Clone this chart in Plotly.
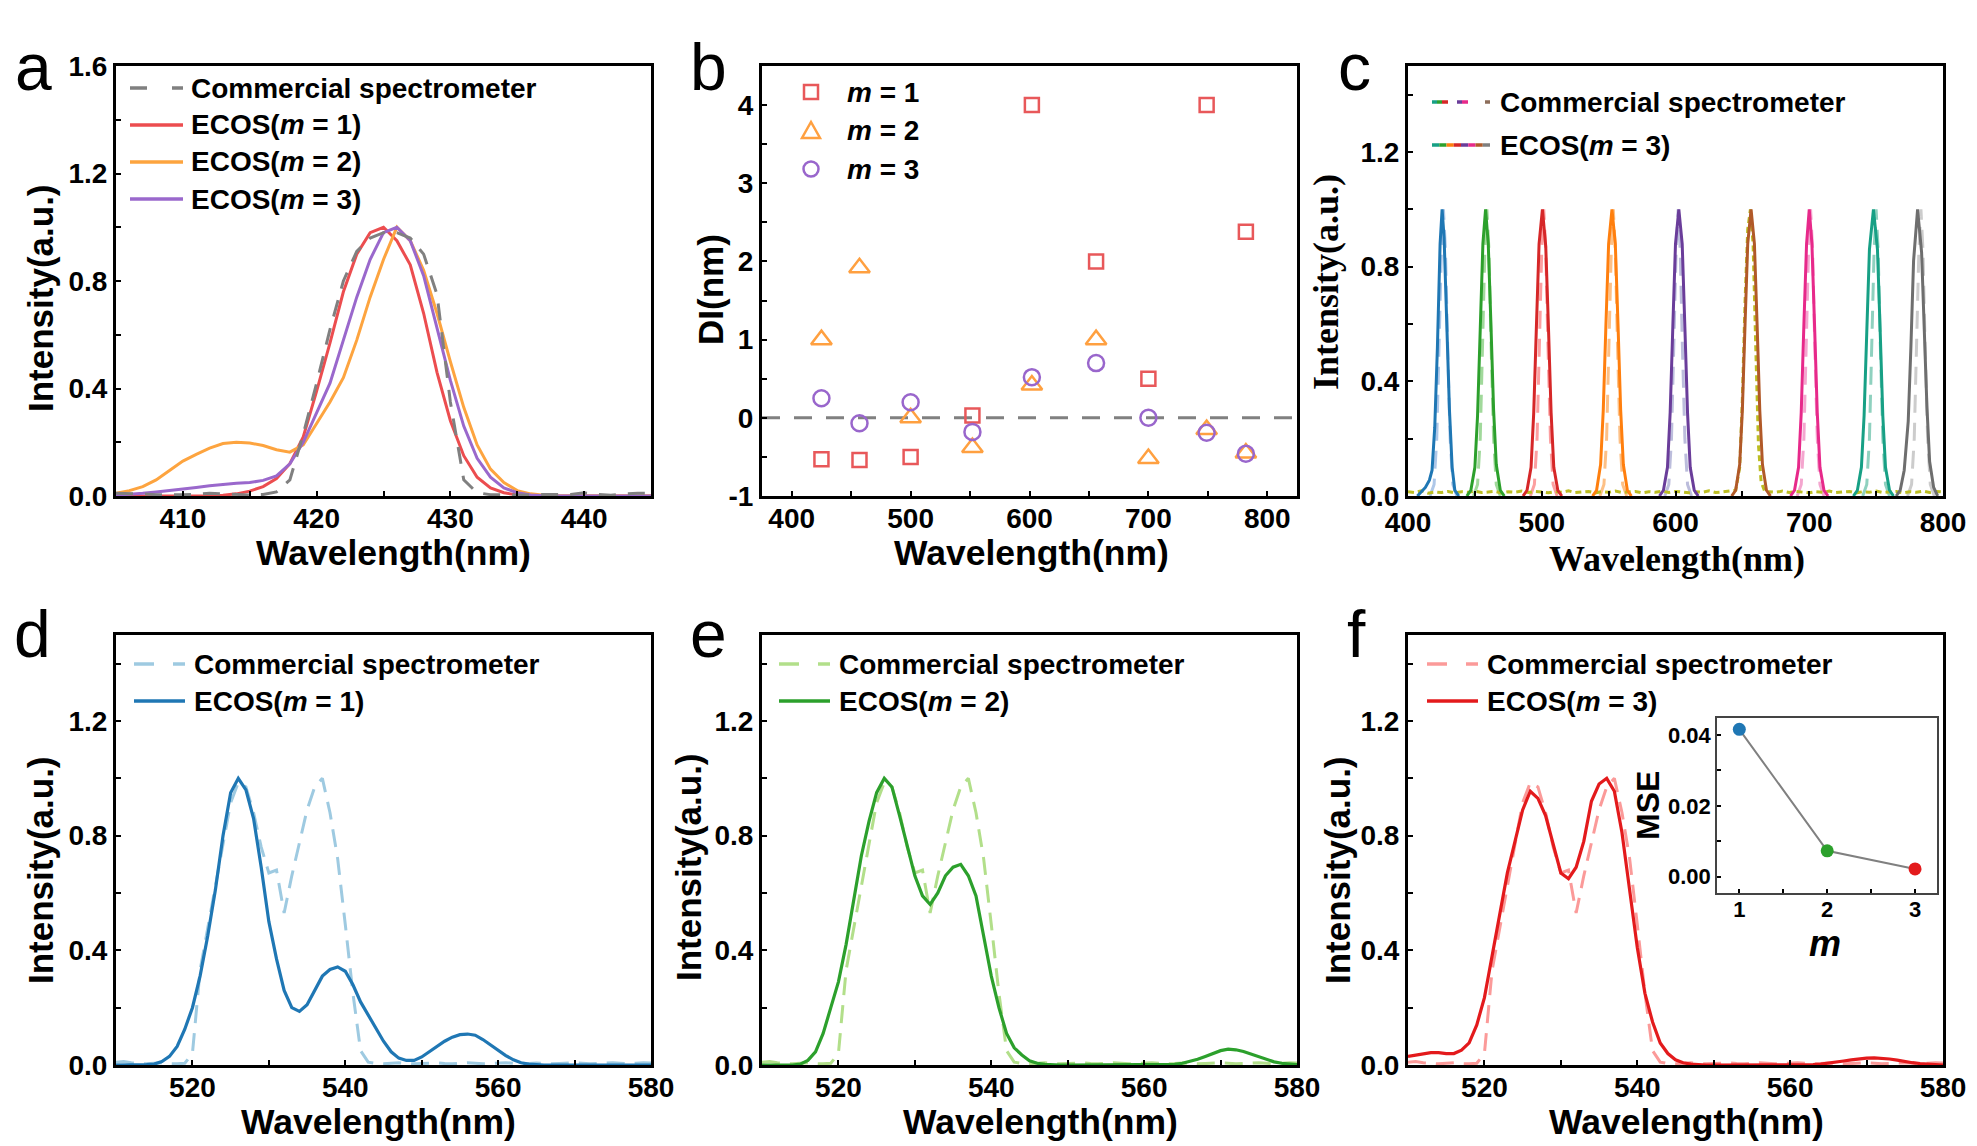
import plotly.graph_objects as go

W, H = 1977, 1146
SANS = "Liberation Sans"
SERIF = "Liberation Serif"

# ---------------- data ----------------
# panel a : 425 nm laser line
wl_a = list(range(405, 446))
a_commercial = [0.010, 0.010, 0.008, 0.005, 0.004, 0.005, 0.006, 0.010, 0.008, 0.005,
                0.004, 0.006, 0.015, 0.060, 0.230, 0.420, 0.620, 0.800, 0.910, 0.960,
                0.980, 0.980, 0.960, 0.900, 0.750, 0.350, 0.060, 0.012, 0.005, 0.004,
                0.003, 0.004, 0.006, 0.005, 0.006, 0.012, 0.006, 0.003, 0.008, 0.010,
                0.010]
a_m1 = [0, 0, 0, 0, 0, 0, 0, 0, 0.003, 0.008,
        0.018, 0.035, 0.065, 0.12, 0.22, 0.39, 0.57, 0.76, 0.90, 0.98,
        1.00, 0.95, 0.86, 0.68, 0.46, 0.28, 0.15, 0.07, 0.03, 0.012,
        0.004, 0.001, 0, 0, 0, 0, 0, 0, 0, 0,
        0]
a_m2 = [0.01, 0.02, 0.035, 0.06, 0.095, 0.13, 0.155, 0.178, 0.195, 0.20,
        0.197, 0.188, 0.172, 0.163, 0.19, 0.27, 0.35, 0.44, 0.58, 0.74,
        0.88, 1.00, 0.95, 0.84, 0.68, 0.50, 0.33, 0.19, 0.10, 0.05,
        0.02, 0.008, 0.003, 0.001, 0, 0, 0, 0, 0, 0,
        0]
a_m3 = [0.003, 0.006, 0.01, 0.015, 0.02, 0.025, 0.032, 0.038, 0.043, 0.047,
        0.05, 0.058, 0.075, 0.12, 0.20, 0.31, 0.42, 0.58, 0.74, 0.88,
        0.98, 1.00, 0.95, 0.82, 0.63, 0.43, 0.26, 0.14, 0.07, 0.03,
        0.012, 0.004, 0.001, 0, 0, 0, 0, 0, 0, 0,
        0]

# panel b : deviation DI (nm)
b_wl = [425, 457, 500, 552, 602, 656, 700, 749, 782]
b_m1 = [-0.53, -0.54, -0.50, 0.03, 4.0, 2.0, 0.5, 4.0, 2.38]
b_m2 = [1.0, 1.92, 0.0, -0.38, 0.42, 1.0, -0.52, -0.15, -0.45]
b_m3 = [0.25, -0.07, 0.2, -0.18, 0.52, 0.7, 0.0, -0.19, -0.46]
b_yticks = [-1, 0, 1, 2, 3, 4]
b_yticktext = ["-1", "0", "1", "2", "3", "4"]

# panel c : nine laser lines, ECOS (m = 3)
c_ecos_x = [
    [407, 410, 413, 416, 418, 420, 422, 424, 425.5, 427, 429, 431, 433, 435, 438],
    [444, 447, 450, 452, 454, 456, 458, 460, 462, 464, 466, 469, 472],
    [486, 489, 492, 494, 496, 498, 500.5, 503, 505, 507, 509, 512, 515],
    [538, 541, 544, 546, 548, 550, 552.5, 555, 557, 559, 561, 564, 567],
    [588, 591, 594, 596, 598, 600, 602.5, 605, 607, 609, 611, 614, 617],
    [642, 645, 648, 650, 652, 654, 656.5, 659, 661, 663, 665, 668, 671],
    [686, 689, 692, 694, 696, 698, 700, 702, 704, 706, 708, 711, 714],
    [733, 736, 739, 741, 743, 745, 748, 751, 753, 755, 757, 760, 763],
    [765, 768, 771, 774, 776, 778, 781, 784, 786, 788, 790, 793, 796],
]
c_ecos_y = [
    [0.0, 0.015, 0.03, 0.055, 0.09, 0.24, 0.52, 0.88, 1.0, 0.90, 0.62, 0.30, 0.10, 0.02, 0.0],
    [0.0, 0.02, 0.10, 0.28, 0.58, 0.88, 1.0, 0.88, 0.60, 0.30, 0.11, 0.02, 0.0],
    [0.0, 0.02, 0.10, 0.29, 0.59, 0.88, 1.0, 0.87, 0.59, 0.29, 0.10, 0.02, 0.0],
    [0.0, 0.02, 0.11, 0.30, 0.60, 0.88, 1.0, 0.88, 0.60, 0.30, 0.11, 0.02, 0.0],
    [0.0, 0.02, 0.10, 0.29, 0.59, 0.88, 1.0, 0.88, 0.59, 0.29, 0.10, 0.02, 0.0],
    [0.0, 0.02, 0.11, 0.30, 0.60, 0.88, 1.0, 0.88, 0.60, 0.30, 0.11, 0.02, 0.0],
    [0.0, 0.02, 0.10, 0.29, 0.60, 0.88, 1.0, 0.88, 0.59, 0.29, 0.10, 0.02, 0.0],
    [0.0, 0.02, 0.10, 0.28, 0.57, 0.86, 1.0, 0.86, 0.58, 0.28, 0.10, 0.02, 0.0],
    [0.0, 0.02, 0.09, 0.26, 0.52, 0.82, 1.0, 0.85, 0.58, 0.31, 0.12, 0.03, 0.0],
]
# commercial spectra of the lines (light dashed, mostly hidden behind ECOS)
c_comm_x = [
    [416.5, 419.5, 421.5, 423.5, 425, 426.5, 428, 429.5, 431.5, 433.5, 436.5],
    [449, 452, 454, 456, 457.5, 459, 460.5, 462, 464, 466, 469],
    [491.5, 494.5, 496.5, 498.5, 500, 501.5, 503, 504.5, 506.5, 508.5, 511.5],
    [543.5, 546.5, 548.5, 550.5, 552, 553.5, 555, 556.5, 558.5, 560.5, 563.5],
    [592, 595, 597, 599, 600.5, 602, 603.5, 605, 607, 609, 612],
    [691, 694, 696, 698, 699.5, 701, 702.5, 704, 706, 708, 711],
    [740, 743, 745, 747, 748.5, 750, 751.5, 753, 755, 757, 760],
    [773.5, 776.5, 778.5, 780.5, 782, 783.5, 785, 786.5, 788.5, 790.5, 793.5],
]
c_comm_y = [
    [0.0, 0.04, 0.20, 0.55, 0.86, 1.0, 0.86, 0.55, 0.20, 0.04, 0.0],
    [0.0, 0.04, 0.20, 0.55, 0.86, 1.0, 0.86, 0.55, 0.20, 0.04, 0.0],
    [0.0, 0.04, 0.20, 0.55, 0.86, 1.0, 0.86, 0.55, 0.20, 0.04, 0.0],
    [0.0, 0.04, 0.20, 0.55, 0.86, 1.0, 0.86, 0.55, 0.20, 0.04, 0.0],
    [0.0, 0.04, 0.20, 0.55, 0.86, 1.0, 0.86, 0.55, 0.20, 0.04, 0.0],
    [0.0, 0.04, 0.20, 0.55, 0.86, 1.0, 0.86, 0.55, 0.20, 0.04, 0.0],
    [0.0, 0.04, 0.20, 0.55, 0.86, 1.0, 0.86, 0.55, 0.20, 0.04, 0.0],
    [0.0, 0.04, 0.20, 0.55, 0.86, 1.0, 0.86, 0.55, 0.20, 0.04, 0.0],
]
# commercial spectrum of the 656 nm line (visible olive dashed, full range)
c_olive_x = [400, 405, 410, 415, 420, 425, 430, 435, 440, 445, 450, 455, 460, 465, 470,
             475, 480, 485, 490, 495, 500, 505, 510, 515, 520, 525, 530, 535, 540, 545,
             550, 555, 560, 565, 570, 575, 580, 585, 590, 595, 600, 605, 610, 615, 620,
             625, 630, 635, 640, 645, 648, 650, 652, 654, 656, 658, 660, 662, 664, 667,
             670, 675, 680, 685, 690, 695, 700, 705, 710, 715, 720, 725, 730, 735, 740,
             745, 750, 755, 760, 765, 770, 775, 780, 785, 790, 795, 800]
c_olive_y = [0.015, 0.012, 0.018, 0.010, 0.014, 0.012, 0.016, 0.011, 0.015, 0.013, 0.017, 0.012, 0.014, 0.016, 0.011,
             0.015, 0.013, 0.017, 0.012, 0.016, 0.014, 0.011, 0.015, 0.013, 0.018, 0.012, 0.014, 0.016, 0.011, 0.015,
             0.013, 0.017, 0.012, 0.014, 0.016, 0.011, 0.015, 0.013, 0.017, 0.012, 0.016, 0.014, 0.011, 0.015, 0.013,
             0.018, 0.012, 0.014, 0.016, 0.02, 0.10, 0.34, 0.68, 0.93, 1.00, 0.88, 0.52, 0.18, 0.05, 0.012,
             0.015, 0.013, 0.017, 0.012, 0.016, 0.014, 0.011, 0.015, 0.013, 0.017, 0.012, 0.014, 0.016, 0.011, 0.015,
             0.013, 0.017, 0.012, 0.014, 0.016, 0.011, 0.015, 0.013, 0.017, 0.012, 0.016, 0.014]

# panels d, e, f : dual-peak spectrum
wl_def = list(range(510, 581))
comm_def = [0.010, 0.012, 0.008, 0.005, 0.004, 0.006, 0.008, 0.005, 0.004, 0.006,
            0.040, 0.330, 0.480, 0.630, 0.770, 0.915, 0.985, 0.970, 0.880, 0.760,
            0.670, 0.680, 0.530, 0.660, 0.780, 0.890, 0.970, 1.000, 0.880, 0.720,
            0.490, 0.250, 0.050, 0.010, 0.005, 0.004, 0.006, 0.008, 0.006, 0.004,
            0.005, 0.007, 0.008, 0.005, 0.004, 0.006, 0.008, 0.006, 0.004, 0.005,
            0.007, 0.008, 0.006, 0.004, 0.005, 0.007, 0.006, 0.004, 0.005, 0.007,
            0.008, 0.006, 0.004, 0.005, 0.007, 0.008, 0.006, 0.004, 0.006, 0.008,
            0.007]
d_ecos = [0, 0, 0, 0, 0.001, 0.003, 0.012, 0.03, 0.065, 0.125,
          0.2, 0.31, 0.45, 0.61, 0.8, 0.95, 1.0, 0.96, 0.86, 0.69,
          0.5, 0.37, 0.26, 0.2, 0.187, 0.21, 0.26, 0.31, 0.333, 0.342,
          0.327, 0.28, 0.22, 0.174, 0.125, 0.083, 0.046, 0.024, 0.016, 0.016,
          0.028, 0.046, 0.065, 0.083, 0.097, 0.106, 0.108, 0.104, 0.089, 0.071,
          0.05, 0.033, 0.018, 0.008, 0.003, 0.001, 0, 0, 0, 0,
          0, 0, 0, 0, 0, 0, 0, 0, 0, 0,
          0]
e_ecos = [0, 0, 0, 0, 0, 0.003, 0.016, 0.046, 0.11, 0.2,
          0.29, 0.42, 0.57, 0.73, 0.85, 0.95, 1.0, 0.97, 0.87, 0.76,
          0.66, 0.59, 0.56, 0.6, 0.66, 0.69, 0.7, 0.66, 0.59, 0.45,
          0.31, 0.2, 0.11, 0.06, 0.035, 0.015, 0.006, 0.002, 0, 0,
          0, 0, 0, 0, 0, 0, 0, 0, 0, 0,
          0, 0, 0, 0, 0.002, 0.006, 0.012, 0.02, 0.03, 0.04,
          0.05, 0.055, 0.053, 0.047, 0.038, 0.028, 0.019, 0.011, 0.006, 0.003,
          0.001]
f_ecos = [0.03, 0.035, 0.04, 0.043, 0.043, 0.04, 0.04, 0.052, 0.077, 0.14,
          0.235, 0.38, 0.54, 0.67, 0.78, 0.89, 0.955, 0.93, 0.87, 0.77,
          0.67, 0.65, 0.69, 0.78, 0.92, 0.98, 1.0, 0.955, 0.81, 0.61,
          0.41, 0.25, 0.15, 0.077, 0.04, 0.018, 0.008, 0.003, 0.001, 0,
          0, 0, 0, 0, 0, 0, 0, 0, 0, 0,
          0, 0, 0, 0.001, 0.003, 0.006, 0.01, 0.014, 0.018, 0.022,
          0.024, 0.025, 0.024, 0.021, 0.017, 0.012, 0.008, 0.005, 0.003, 0.001,
          0]

# inset: MSE versus m
mse_m = [1, 2, 3]
mse_val = [0.0416, 0.0073, 0.0022]

# ---------------- styles ----------------
GRAY = "#808080"
RED_A, ORANGE_A, PURPLE_A = "#EC4D4F", "#FDA43F", "#9A68CC"
c_ecos_colors = ["#1f77b4", "#2ca02c", "#d62728", "#ff7f0e", "#6a3d9a",
                 "#b15928", "#e7298a", "#17a085", "#6e6e6e"]
c_comm_colors = ["#aec7e8", "#a1d99b", "#fc9fa0", "#fdc086", "#bcbddc",
                 "#f4a6cf", "#8fd1bf", "#cccccc"]
D_COL, D_LIGHT = "#1f77b4", "#9ecae1"
E_COL, E_LIGHT = "#2ca02c", "#b2df8a"
F_COL, F_LIGHT = "#e31a1c", "#fb9a99"
mse_colors = ["#1f77b4", "#2ca02c", "#e31a1c"]
DASH_A = "17px,12px"
DASH_L = "18px,10px"


def px(x):
    return x / W


def py(y):
    return 1 - y / H


fig = go.Figure()


def line(x, y, ax, color, width=3, dash="solid"):
    fig.add_trace(go.Scatter(x=x, y=y, mode="lines", xaxis="x" + ax, yaxis="y" + ax,
                             line=dict(color=color, width=width, dash=dash),
                             showlegend=False, hoverinfo="skip"))


# panel a
line(wl_a, a_m1, "", RED_A)
line(wl_a, a_m2, "", ORANGE_A)
line(wl_a, a_m3, "", PURPLE_A)
line(wl_a, a_commercial, "", GRAY, 3, DASH_A)

# panel b
for vals, sym, col, size in [(b_m1, "square-open", "#E8585A", 14),
                             (b_m2, "triangle-up-open", "#FFA040", 18),
                             (b_m3, "circle-open", "#9966CC", 16)]:
    fig.add_trace(go.Scatter(x=b_wl, y=vals, mode="markers", xaxis="x2", yaxis="y2",
                             marker=dict(symbol=sym, size=size, color=col,
                                         line=dict(width=2.5, color=col)),
                             showlegend=False, hoverinfo="skip"))

# panel c
for xs, ys, col in zip(c_comm_x, c_comm_y, c_comm_colors):
    line(xs, ys, "3", col, 3, DASH_L)
line(c_olive_x, c_olive_y, "3", "#bcbd22", 3, "6px,4px")
for xs, ys, col in zip(c_ecos_x, c_ecos_y, c_ecos_colors):
    line(xs, ys, "3", col, 3)

# panels d, e, f
line(wl_def, comm_def, "4", D_LIGHT, 3, DASH_L)
line(wl_def, d_ecos, "4", D_COL, 3.2)
line(wl_def, comm_def, "5", E_LIGHT, 3, DASH_L)
line(wl_def, e_ecos, "5", E_COL, 3.2)
line(wl_def, comm_def, "6", F_LIGHT, 3, DASH_L)
line(wl_def, f_ecos, "6", F_COL, 3.2)

# inset
fig.add_trace(go.Scatter(x=mse_m, y=mse_val, mode="lines+markers", xaxis="x7", yaxis="y7",
                         line=dict(color=GRAY, width=2),
                         marker=dict(size=13, color=mse_colors),
                         showlegend=False, hoverinfo="skip"))

# ---------------- axes ----------------
TICKFONT = dict(family=SANS, size=28, color="black", weight="bold")


def axis(domain, rng, anchor, dtick=None, minor=None, fmt=None, tickvals=None,
         ticktext=None, font=TICKFONT, lw=3, lc="black", ticklen=5, standoff=0):
    d = dict(domain=domain, range=rng, anchor=anchor, showline=True, linewidth=lw,
             linecolor=lc, mirror=True, showgrid=False, zeroline=False,
             ticks="inside", ticklen=ticklen, tickwidth=2, tickcolor="black",
             tickfont=font, fixedrange=True, automargin=False,
             ticklabelstandoff=standoff, title=dict(text=""))
    if dtick is not None:
        d["dtick"] = dtick
        d["tick0"] = 0
    if fmt:
        d["tickformat"] = fmt
    if tickvals is not None:
        d["tickmode"] = "array"
        d["tickvals"] = tickvals
        d["ticktext"] = ticktext
    if minor is not None:
        d["minor"] = dict(dtick=minor, ticks="inside", ticklen=ticklen, tickwidth=2,
                          tickcolor="black", showgrid=False)
    return d


XA = (px(116), px(651))
XB = (px(762), px(1297))
XC = (px(1408), px(1943))
Y1 = (py(496), py(66))
Y2 = (py(1065), py(635))
INSET_FONT = dict(family=SANS, size=22, color="black", weight="bold")
XS = -5  # x tick labels sit close to the frame, as in the original

layout = dict(
    template="none",
    width=W, height=H, autosize=False,
    margin=dict(l=0, r=0, t=0, b=0, pad=0, autoexpand=False),
    paper_bgcolor="white", plot_bgcolor="white",
    showlegend=False,
    xaxis=axis(XA, [405, 445], "y", 10, 5, standoff=XS),
    yaxis=axis(Y1, [0, 1.6], "x", 0.4, 0.2, ".1f"),
    xaxis2=axis(XB, [375, 825], "y2", 100, 50, standoff=XS),
    yaxis2=axis(Y1, [-1, 4.5], "x2", minor=0.5, tickvals=b_yticks, ticktext=b_yticktext),
    xaxis3=axis(XC, [400, 800], "y3", 100, 50, standoff=-1),
    yaxis3=axis(Y1, [0, 1.5], "x3", 0.4, 0.2, ".1f"),
    xaxis4=axis(XA, [510, 580], "y4", 20, 10, standoff=XS),
    yaxis4=axis(Y2, [0, 1.5], "x4", 0.4, 0.2, ".1f"),
    xaxis5=axis(XB, [510, 580], "y5", 20, 10, standoff=XS),
    yaxis5=axis(Y2, [0, 1.5], "x5", 0.4, 0.2, ".1f"),
    xaxis6=axis(XC, [510, 580], "y6", 20, 10, standoff=XS),
    yaxis6=axis(Y2, [0, 1.5], "x6", 0.4, 0.2, ".1f"),
    xaxis7=axis((px(1717), px(1937)), [0.746, 3.25], "y7", minor=0.5,
                tickvals=[1, 2, 3], ticktext=["1", "2", "3"],
                font=INSET_FONT, lw=1.5, lc="#444444", ticklen=4, standoff=-4),
    yaxis7=axis((py(893), py(718)), [-0.0046, 0.0448], "x7", 0.02, 0.01, ".2f",
                font=INSET_FONT, lw=1.5, lc="#444444", ticklen=4),
)
fig.update_layout(**layout)

# ---------------- decorations: reference line, legends, titles ----------------
shapes = []
annotations = []

shapes.append(dict(type="line", xref="x2 domain", yref="y2", x0=0, x1=1, y0=0, y1=0,
                   line=dict(color=GRAY, width=3, dash="18px,14px"), layer="below"))


def seg(x0, x1, y, color, width=3.5, dash="solid"):
    shapes.append(dict(type="line", xref="paper", yref="paper", x0=px(x0), x1=px(x1),
                       y0=py(y), y1=py(y), line=dict(color=color, width=width, dash=dash)))


def text(x, y, s, size=28, family=SANS, weight="bold", xanchor="left", yanchor="middle",
         angle=0):
    annotations.append(dict(x=px(x), y=py(y), xref="paper", yref="paper", text=s,
                            showarrow=False, xanchor=xanchor, yanchor=yanchor,
                            textangle=angle, borderpad=0,
                            font=dict(family=family, size=size, color="black", weight=weight)))


LEG = 28
# legend a
for yy, col, dash, label in [(88, GRAY, "17px,25px", "Commercial spectrometer"),
                             (125, RED_A, "solid", "ECOS(<i>m</i> = 1)"),
                             (162, ORANGE_A, "solid", "ECOS(<i>m</i> = 2)"),
                             (199, PURPLE_A, "solid", "ECOS(<i>m</i> = 3)")]:
    seg(130, 183, yy, col, 3.5, dash)
    text(190, yy, label, LEG)

# legend b (marker keys)
bx = 811
shapes.append(dict(type="rect", xref="paper", yref="paper", x0=px(bx - 7), x1=px(bx + 7),
                   y0=py(92 + 7), y1=py(92 - 7), line=dict(color="#E8585A", width=2.5)))
shapes.append(dict(type="path", xref="paper", yref="paper",
                   path="M %f,%f L %f,%f L %f,%f Z" % (px(bx - 9), py(138), px(bx + 9), py(138),
                                                       px(bx), py(122)),
                   line=dict(color="#FFA040", width=2.5)))
shapes.append(dict(type="circle", xref="paper", yref="paper", x0=px(bx - 7.5), x1=px(bx + 7.5),
                   y0=py(169 + 7.5), y1=py(169 - 7.5), line=dict(color="#9966CC", width=2.5)))
for yy, label in [(92, "<i>m</i> = 1"), (130, "<i>m</i> = 2"), (169, "<i>m</i> = 3")]:
    text(846, yy, label, LEG)

# legend c (multicolour keys)
for x0, x1, col in [(1432, 1437, "#17a085"), (1437, 1442, "#2ca02c"), (1442, 1448, "#d62728"),
                    (1457, 1462, "#6a3d9a"), (1462, 1468, "#e7298a"), (1485, 1490, "#8c6d5a")]:
    seg(x0, x1, 102, col, 3.5)
for i, col in enumerate(["#17a085", "#2ca02c", "#ff7f0e", "#d62728", "#6a3d9a",
                         "#e7298a", "#b15928", "#7f7f7f"]):
    seg(1432 + i * 7.25, 1432 + (i + 1) * 7.25, 145, col, 3.5)
text(1499, 102, "Commercial spectrometer", LEG)
text(1499, 145, "ECOS(<i>m</i> = 3)", LEG)

# legends d, e, f
for x0, light, col, m in [(134, D_LIGHT, D_COL, 1), (779, E_LIGHT, E_COL, 2),
                          (1427, F_LIGHT, F_COL, 3)]:
    seg(x0, x0 + 51, 664, light, 3.5, "20px,19px")
    seg(x0, x0 + 51, 701, col, 3.5)
    text(x0 + 59, 664, "Commercial spectrometer", LEG)
    text(x0 + 59, 701, "ECOS(<i>m</i> = %d)" % m, LEG)

# axis titles
AT = 35
WT = 35.5
text(41, 298, "Intensity(a.u.)", AT, xanchor="center", angle=-90)
text(393, 553, "Wavelength(nm)", WT, xanchor="center")
text(710, 290, "DI(nm)", AT, xanchor="center", angle=-90)
text(1031, 553, "Wavelength(nm)", WT, xanchor="center")
text(1326, 282, "Intensity(a.u.)", 36, SERIF, xanchor="center", angle=-90)
text(1677, 559, "Wavelength(nm)", 36, SERIF, xanchor="center")
text(40, 870, "Intensity(a.u.)", AT, xanchor="center", angle=-90)
text(378, 1122, "Wavelength(nm)", WT, xanchor="center")
text(688, 867, "Intensity(a.u.)", AT, xanchor="center", angle=-90)
text(1040, 1122, "Wavelength(nm)", WT, xanchor="center")
text(1337, 870, "Intensity(a.u.)", AT, xanchor="center", angle=-90)
text(1686, 1122, "Wavelength(nm)", WT, xanchor="center")
# inset titles
text(1648, 806, "MSE", 32, xanchor="center", angle=-90)
text(1825, 943, "<i>m</i>", 36, xanchor="center")

# panel letters
for lx, base, letter in [(14, 91, "a"), (689, 91, "b"), (1337, 91, "c"),
                         (13, 658, "d"), (689, 658, "e"), (1346, 658, "f")]:
    text(lx, base + 14, letter, 66, weight="normal", yanchor="bottom")

fig.update_layout(shapes=shapes, annotations=annotations)
fig.write_html("out.html")
